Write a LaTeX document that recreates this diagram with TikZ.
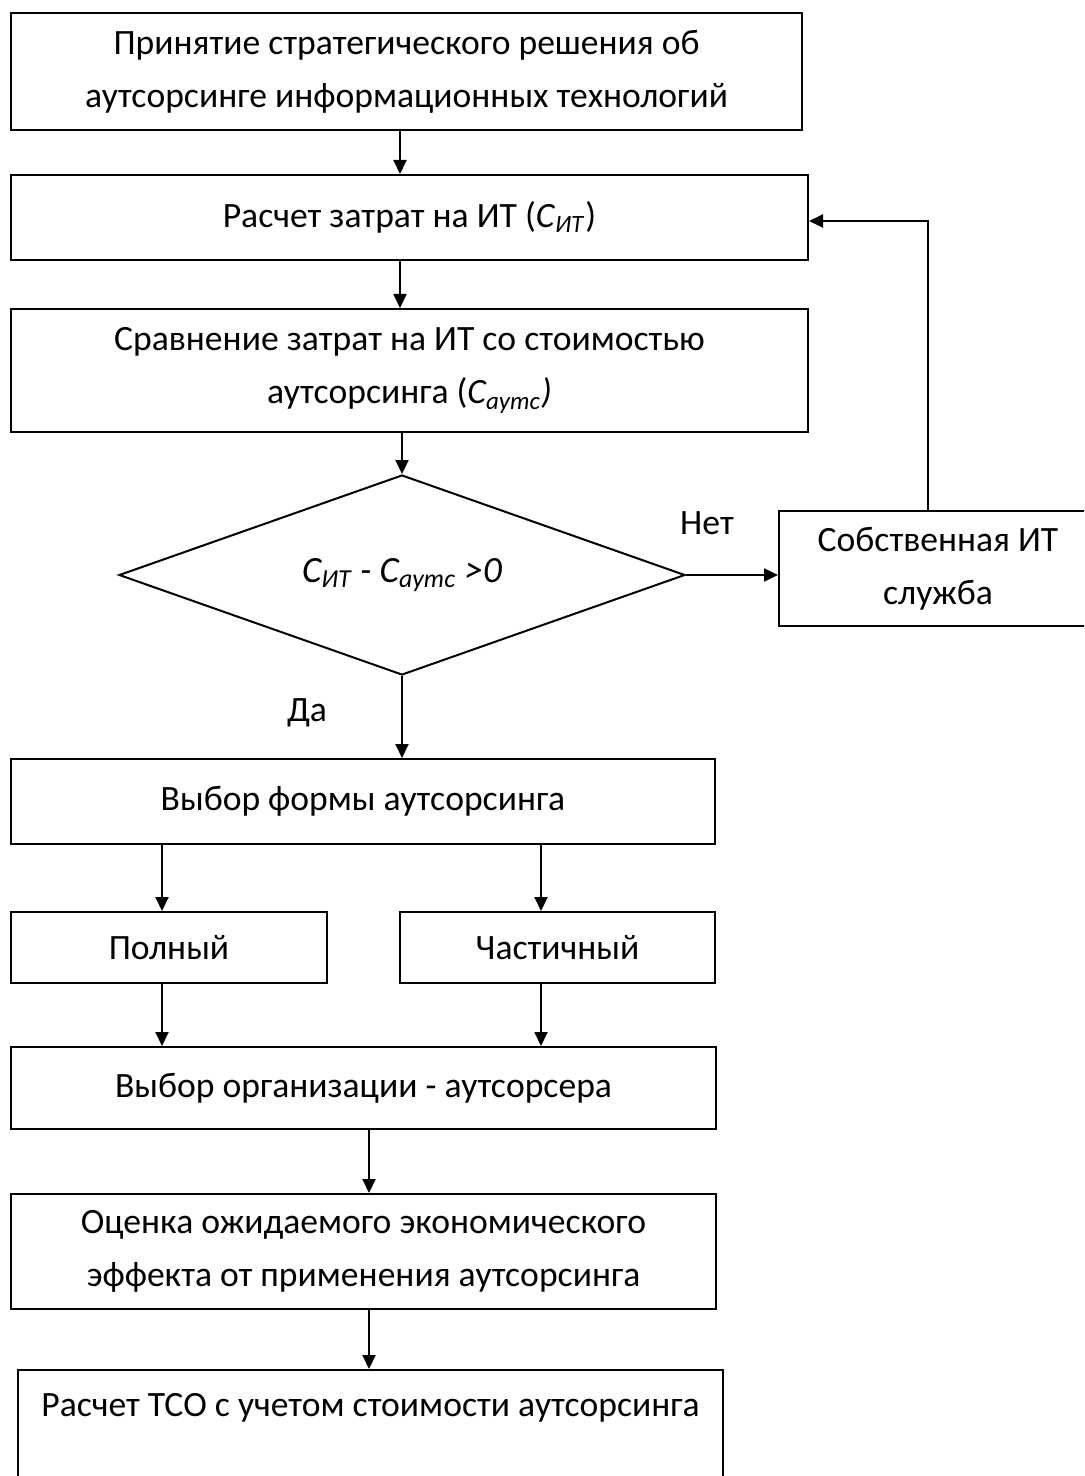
\documentclass[tikz,border=0pt]{standalone}
\usepackage{fontspec}
\setmainfont{Carlito}
\usetikzlibrary{shapes.geometric,arrows.meta}
\tikzset{
  box/.style={draw, line width=1pt, rectangle, inner sep=0pt, align=center,
    font=\fontsize{17.8}{26.5}\selectfont},
  arr/.style={line width=1pt, -{Triangle[length=7pt,width=6.5pt]}},
  lbl/.style={inner sep=0pt, font=\fontsize{17.8}{22}\selectfont},
}
\begin{document}
\begin{tikzpicture}[x=0.5pt,y=-0.5pt]
\useasboundingbox (0,0) rectangle (1084,1476);
\clip (0,0) rectangle (1084,1476);

\node[box, minimum width=395.5pt, minimum height=58.5pt] (b1) at (406.5,71.5)
  {Принятие стратегического решения об\\аутсорсинге информационных технологий};
\node[box, minimum width=398.5pt, minimum height=42.5pt] (b2) at (409.5,217.5)
  {Расчет затрат на ИТ (\textit{С}\textsubscript{\textit{ИТ}})};
\node[box, minimum width=398.5pt, minimum height=61.5pt] (b3) at (409.5,370.5)
  {Сравнение затрат на ИТ со стоимостью\\аутсорсинга (\textit{С\textsubscript{аутс})}};
\node[draw, line width=1pt, diamond, aspect=2.83, inner sep=0pt,
  minimum width=283pt, minimum height=100pt,
  font=\fontsize{18.5}{22}\selectfont] (dia) at (402,575)
  {\textit{С\textsubscript{ИТ} - С\textsubscript{аутс} >0}};
\node[box, minimum width=159pt, minimum height=57.5pt] (own) at (938,568.5)
  {Собственная ИТ\\служба};
\node[box, minimum width=352pt, minimum height=42.5pt] (b4) at (363,801.5)
  {Выбор формы аутсорсинга};
\node[box, minimum width=158pt, minimum height=35.5pt] (full) at (169,947.5)
  {Полный};
\node[box, minimum width=157.5pt, minimum height=35.5pt] (part) at (557.5,947.5)
  {Частичный};
\node[box, minimum width=352.5pt, minimum height=41pt] (b5) at (363.5,1088)
  {Выбор организации - аутсорсера};
\node[box, minimum width=352.5pt, minimum height=57.5pt] (b6) at (363.5,1251.5)
  {Оценка ожидаемого экономического\\эффекта от применения аутсорсинга};
\node[box, anchor=north, minimum width=352.5pt, text height=23pt, text depth=52pt] (b7) at (370.5,1369)
  {Расчет ТСО с учетом стоимости аутсорсинга};

\node[lbl] (no) at (707,523) {Нет};
\node[lbl] (yes) at (307,713) {Да};

\coordinate (col) at (400,0);
\coordinate (fb) at (928,221);
\coordinate (cl) at (162,0);
\coordinate (cr) at (541,0);
\coordinate (cm) at (369,0);

\draw[arr] (b1.south -| col) -- (b2.north -| col);
\draw[arr] (b2.south -| col) -- (b3.north -| col);
\draw[arr] (b3.south -| dia.north) -- (dia.north);
\draw[arr] (dia.south) -- (b4.north -| dia.south);
\draw[arr] (dia.east) -- (own.west |- dia.east);
\draw[arr] (fb |- own.north) -- (fb) -- (fb -| b2.east);
\draw[arr] (b4.south -| cl) -- (full.north -| cl);
\draw[arr] (b4.south -| cr) -- (part.north -| cr);
\draw[arr] (full.south -| cl) -- (b5.north -| cl);
\draw[arr] (part.south -| cr) -- (b5.north -| cr);
\draw[arr] (b5.south -| cm) -- (b6.north -| cm);
\draw[arr] (b6.south -| cm) -- (b7.north -| cm);
\end{tikzpicture}
\end{document}
